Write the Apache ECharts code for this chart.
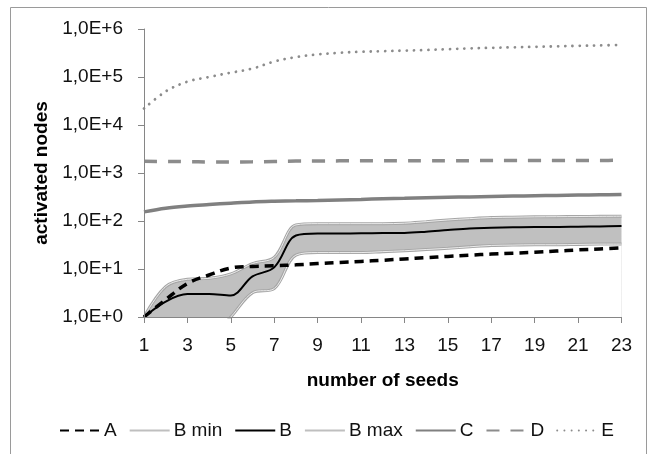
<!DOCTYPE html>
<html>
<head>
<meta charset="utf-8">
<script src="https://cdn.jsdelivr.net/npm/echarts@6/dist/echarts.min.js"></script>
<style>
html,body{margin:0;padding:0;background:#fff;}
#c{width:651px;height:454px;}
</style>
</head>
<body>
<div id="c"></div>
<script>
var seeds = ['1','2','3','4','5','6','7','8','9','10','11','12','13','14','15','16','17','18','19','20','21','22','23'];
var yTickLabels = ['1,0E+0','1,0E+1','1,0E+2','1,0E+3','1,0E+4','1,0E+5','1,0E+6'];
var A = [1.0, 2.3, 5.0, 7.5, 10.5, 11.3, 11.7, 12.2, 13, 13.7, 14.4, 15.2, 16.2, 17.2, 18.3, 19.4, 20.5, 21.4, 22.3, 23.6, 25, 26.2, 27.5];
var B = [1.0, 2.1, 3.0, 3.0, 2.8, 7.0, 10.8, 50, 55, 55, 55.5, 56, 56.5, 60, 65, 70, 72, 74, 75, 75, 76, 77, 79];
var Bmin = [0.1, 0.15, 0.2, 0.35, 1.0, 3.2, 3.9, 19.5, 22, 22, 22, 23, 24, 25.5, 27, 29, 31, 31.5, 32, 32, 32.5, 33, 33];
var Bmax = [1.0, 4.3, 6.1, 6.4, 7.9, 13, 17.5, 83, 88, 88, 88, 88, 90, 97, 105, 112, 118, 120, 122, 123, 124, 125, 126];
var C = [155, 185, 205, 220, 235, 250, 258, 263, 268, 275, 282, 290, 297, 305, 312, 318, 324, 330, 336, 341, 346, 351, 356];
var D = [1750, 1740, 1720, 1700, 1700, 1710, 1740, 1770, 1780, 1790, 1800, 1800, 1800, 1810, 1810, 1810, 1820, 1820, 1820, 1830, 1830, 1830, 1840];
var E = [22000, 50000, 80000, 100000, 123000, 150000, 210000, 260000, 295000, 320000, 335000, 345000, 355000, 365000, 380000, 395000, 405000, 415000, 425000, 435000, 445000, 455000, 465000];

var FONT = '"Liberation Sans", Arial, sans-serif';
var FS = 19;
var chart = echarts.init(document.getElementById('c'));
var SM = 0.35;
var hide = {opacity: 0};
chart.setOption({
  animation: false,
  backgroundColor: '#fff',
  graphic: [{
    type: 'rect', silent: true, z: 100,
    shape: {x: 10.5, y: 7.5, width: 636, height: 470},
    style: {fill: 'none', stroke: '#9a9a9a', lineWidth: 1}
  }],
  grid: {left: 144, right: 29.5, top: 29, bottom: 137, containLabel: false},
  xAxis: {
    type: 'category', data: seeds, boundaryGap: false, z: 10,
    name: 'number of seeds', nameLocation: 'middle', nameGap: 54,
    nameTextStyle: {fontFamily: FONT, fontSize: FS, fontWeight: 'bold', color: '#000'},
    axisLine: {lineStyle: {color: '#868686', width: 1}},
    axisTick: {interval: 1, length: 6, lineStyle: {color: '#868686'}},
    axisLabel: {interval: 1, margin: 19, fontFamily: FONT, fontSize: FS, color: '#111'},
    splitLine: {show: false}
  },
  yAxis: {
    type: 'log', logBase: 10, min: 1, max: 1000000, z: 10,
    name: 'activated nodes', nameLocation: 'middle', nameGap: 89,
    nameTextStyle: {fontFamily: FONT, fontSize: FS, fontWeight: 'bold', color: '#000'},
    axisLine: {show: true, lineStyle: {color: '#868686', width: 1}},
    axisTick: {show: true, length: 6, lineStyle: {color: '#868686'}},
    axisLabel: {margin: 21, fontFamily: FONT, fontSize: FS, color: '#111',
      formatter: function (v) { return yTickLabels[Math.round(Math.log10(v))]; }},
    minorTick: {show: false},
    splitLine: {show: false}
  },
  legend: {
    left: 54, top: 416, itemWidth: 40, itemHeight: 14, itemGap: 12,
    itemStyle: hide,
    textStyle: {fontFamily: FONT, fontSize: FS, color: '#111', padding: [0,0,0,-1]},
    data: [
      {name: 'A', itemStyle: hide},
      {name: 'B min', itemStyle: hide, lineStyle: {color: '#bfbfbf', width: 2}},
      {name: 'B', itemStyle: hide},
      {name: 'B max', itemStyle: hide, lineStyle: {color: '#bfbfbf', width: 2}},
      {name: 'C', itemStyle: hide},
      {name: 'D', itemStyle: hide},
      {name: 'E', itemStyle: hide}
    ]
  },
  series: [
    {name: 'bandMax', type: 'line', data: Bmax, smooth: SM, symbol: 'none', z: 1,
      lineStyle: {color: '#a6a6a6', width: 3}, areaStyle: {color: '#c0c0c0', opacity: 1, origin: 'start'}},
    {name: 'bandMin', type: 'line', data: Bmin, smooth: SM, symbol: 'none', z: 1,
      lineStyle: {color: '#a6a6a6', width: 3}, areaStyle: {color: '#ffffff', opacity: 1, origin: 'start'}},
    {name: 'B min', type: 'line', data: Bmin, smooth: SM, symbol: 'none', z: 2,
      itemStyle: {color: '#bfbfbf'}, lineStyle: {color: '#ececec', width: 1}},
    {name: 'B max', type: 'line', data: Bmax, smooth: SM, symbol: 'none', z: 2,
      itemStyle: {color: '#bfbfbf'}, lineStyle: {color: '#ececec', width: 1}},
    {name: 'C', type: 'line', data: C, smooth: SM, symbol: 'none', z: 3,
      itemStyle: {color: '#808080'}, lineStyle: {color: '#808080', width: 3.5}},
    {name: 'D', type: 'line', data: D, smooth: SM, symbol: 'none', z: 3,
      itemStyle: {color: '#8c8c8c'}, lineStyle: {color: '#8c8c8c', width: 3.5, type: [13, 11]}},
    {name: 'E', type: 'line', data: E, smooth: SM, symbol: 'none', z: 3,
      itemStyle: {color: '#8c8c8c'}, lineStyle: {color: '#8c8c8c', width: 2.8, type: [0.01, 7.2], cap: 'round'}},
    {name: 'B', type: 'line', data: B, smooth: SM, symbol: 'none', z: 4,
      itemStyle: {color: '#000'}, lineStyle: {color: '#000', width: 2}},
    {name: 'A', type: 'line', data: A, smooth: SM, symbol: 'none', z: 5,
      itemStyle: {color: '#000'}, lineStyle: {color: '#000', width: 3.5, type: [9, 6]}}
  ]
});
</script>
</body>
</html>
